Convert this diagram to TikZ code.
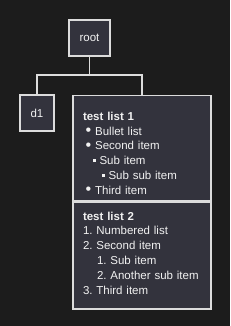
\documentclass[tikz,border=0pt]{standalone}
\usepackage{fontspec}
\setmainfont{Liberation Sans}
\usetikzlibrary{positioning}
\definecolor{BgColor}{HTML}{1C1C1C}
\definecolor{BoxColor}{HTML}{33333D}
\definecolor{LineColor}{HTML}{DCDCDC}
\definecolor{TextColor}{HTML}{F2F2F2}
\frenchspacing
\newcommand{\blt}{\hspace*{2.5pt}\raisebox{-0.6pt}{\scalebox{1.4}{\textbullet}}\hspace{4pt}}
\newcommand{\sqb}[1]{\hspace*{#1}\rule[2.5pt]{3pt}{3pt}\hspace{3.5pt}}
\newcommand{\sub}{\hspace*{14pt}}

\begin{document}
\begin{tikzpicture}[x=1pt,y=1pt,
  every node/.style={font=\fontsize{11.5}{14.8}\selectfont,text=TextColor},
  box/.style={draw=LineColor,line width=1.3pt,fill=BoxColor,inner sep=0pt},
  listbox/.style={box,minimum width=138pt,text width=118pt,align=left}]
\useasboundingbox[fill=BgColor] (0,0) rectangle (230,326);
\node[box,minimum width=41pt,minimum height=36pt] (root) at (89.5,288) {root};
\node[box,minimum width=34pt,minimum height=36pt] (d1) at (37,213) {d1};
\node[listbox,minimum height=105pt,anchor=north] (l1) at (142,231) {\rule{0pt}{19pt}\textbf{test list 1}\\
  \blt Bullet list\\
  \blt Second item\\
  \sqb{10pt}Sub item\\
  \sqb{19pt}Sub sub item\\
  \blt Third item};
\node[listbox,minimum height=107pt,anchor=north] (l2) at (l1.south) {\textbf{test list 2}\\
  1. Numbered list\\
  2. Second item\\
  \sub 1. Sub item\\
  \sub 2. Another sub item\\
  3. Third item\rule[-5pt]{0pt}{5pt}};
\coordinate (fork) at (89.5,251);
\draw[LineColor,line width=1.3pt] (root.south) -- (fork) -| (d1.north);
\draw[LineColor,line width=1.3pt] (fork) -| (l1.north);
\end{tikzpicture}
\end{document}
